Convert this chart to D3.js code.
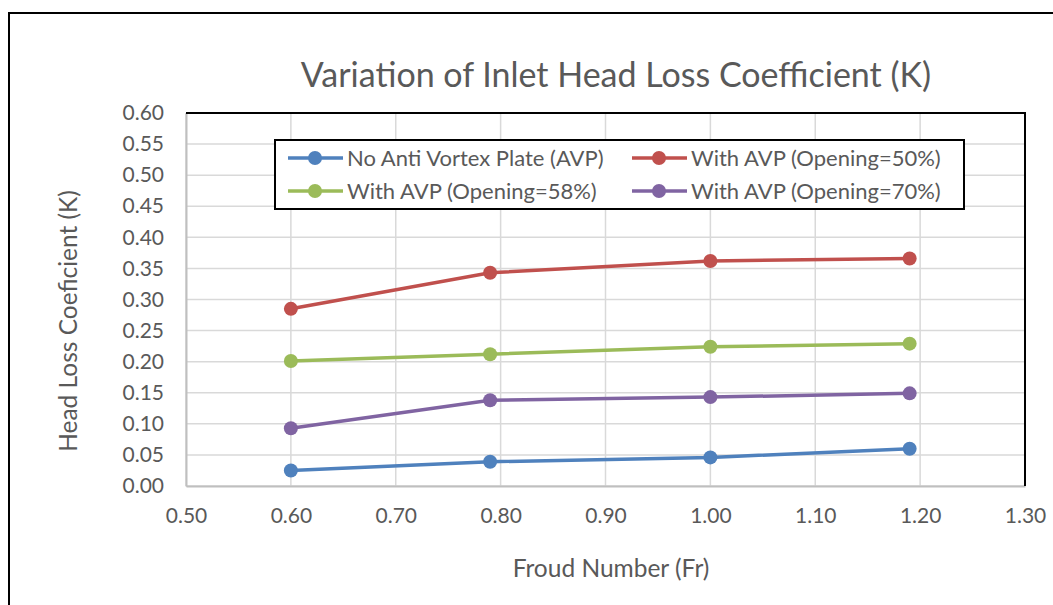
<!DOCTYPE html>
<meta charset="utf-8">
<style>
  body { margin: 0; background: #fff; }
  text { font-family: Lato, "Open Sans", sans-serif; fill: #595959; }
</style>
<script src="https://d3js.org/d3.v7.min.js"></script>
<div id="chart"></div>
<script>

  // data
  var froude = [0.60, 0.79, 1.00, 1.19]
  var noAVP  = [0.025, 0.039, 0.046, 0.060]
  var avp50  = [0.285, 0.343, 0.362, 0.366]
  var avp58  = [0.201, 0.212, 0.224, 0.229]
  var avp70  = [0.093, 0.138, 0.143, 0.149]
  var seriesNames = ["No Anti Vortex Plate (AVP)", "With AVP (Opening=50%)",
                     "With AVP (Opening=58%)", "With AVP (Opening=70%)"]
  var seriesColors = ["#4F81BD", "#C0504D", "#9BBB59", "#8064A2"]
  var xTicks = [0.5, 0.6, 0.7, 0.8, 0.9, 1.0, 1.1, 1.2, 1.3]
  var yTicks = [0, 0.05, 0.1, 0.15, 0.2, 0.25, 0.3, 0.35, 0.4, 0.45, 0.5, 0.55, 0.6]

  var series = [noAVP, avp50, avp58, avp70]

  var width = 1053,
      height = 605
  var plot = {left: 186, right: 1025, top: 113, bottom: 486}

  var svg = d3.select("#chart")
    .append("svg")
      .attr("width", width)
      .attr("height", height)

  // chart border
  svg.append("rect")
    .attr("x", 9).attr("y", 13)
    .attr("width", 1060).attr("height", 620)
    .attr("fill", "none")
    .attr("stroke", "#000")
    .attr("stroke-width", 2)

  var x = d3.scaleLinear().domain([0.5, 1.3]).range([plot.left, plot.right])
  var y = d3.scaleLinear().domain([0, 0.6]).range([plot.bottom, plot.top])

  // gridlines
  svg.append("g")
    .selectAll("line")
    .data(yTicks)
    .enter()
    .append("line")
      .attr("x1", plot.left).attr("x2", plot.right)
      .attr("y1", function(d) { return y(d) }).attr("y2", function(d) { return y(d) })
      .attr("stroke", "#d9d9d9").attr("stroke-width", 1.5)

  svg.append("g")
    .selectAll("line")
    .data(xTicks)
    .enter()
    .append("line")
      .attr("x1", function(d) { return x(d) }).attr("x2", function(d) { return x(d) })
      .attr("y1", plot.top).attr("y2", plot.bottom)
      .attr("stroke", "#d9d9d9").attr("stroke-width", 1.5)

  // axes
  var yAxis = svg.append("g")
    .attr("transform", "translate(" + plot.left + ",0)")
    .call(d3.axisLeft(y).tickValues(yTicks).tickFormat(d3.format(".2f")).tickSize(0).tickPadding(22))
  var xAxis = svg.append("g")
    .attr("transform", "translate(0," + plot.bottom + ")")
    .call(d3.axisBottom(x).tickValues(xTicks).tickFormat(d3.format(".2f")).tickSize(0).tickPadding(22))

  ;[yAxis, xAxis].forEach(function(a) {
    a.select(".domain").attr("stroke", "#bfbfbf").attr("stroke-width", 2)
    a.selectAll("text").style("font-size", "21px").attr("fill", "#595959")
  })

  // plot top and right borders
  svg.append("path")
    .attr("d", "M" + plot.left + "," + plot.top + "H" + plot.right + "V" + plot.bottom)
    .attr("fill", "none")
    .attr("stroke", "#000")
    .attr("stroke-width", 2)

  // lines and markers
  var line = d3.line()
    .x(function(d, i) { return x(froude[i]) })
    .y(function(d) { return y(d) })

  series.forEach(function(s, k) {
    svg.append("path")
      .datum(s)
      .attr("d", line)
      .attr("fill", "none")
      .attr("stroke", seriesColors[k])
      .attr("stroke-width", 3.5)
    svg.append("g")
      .selectAll("circle")
      .data(s)
      .enter()
      .append("circle")
        .attr("cx", function(d, i) { return x(froude[i]) })
        .attr("cy", function(d) { return y(d) })
        .attr("r", 7)
        .attr("fill", seriesColors[k])
  })

  // legend
  var legend = svg.append("g")
  legend.append("rect")
    .attr("x", 275).attr("y", 140)
    .attr("width", 689).attr("height", 69)
    .attr("fill", "#fff")
    .attr("stroke", "#000")
    .attr("stroke-width", 2)

  var legX = [288, 632], legY = [158, 191]
  seriesNames.forEach(function(name, k) {
    var lx = legX[k % 2], ly = legY[Math.floor(k / 2)]
    legend.append("line")
      .attr("x1", lx).attr("x2", lx + 55)
      .attr("y1", ly).attr("y2", ly)
      .attr("stroke", seriesColors[k])
      .attr("stroke-width", 3.5)
    legend.append("circle")
      .attr("cx", lx + 27).attr("cy", ly).attr("r", 7)
      .attr("fill", seriesColors[k])
    legend.append("text")
      .attr("x", lx + 59).attr("y", ly)
      .attr("dy", "0.35em")
      .style("font-size", "22px")
      .text(name)
  })

  // titles
  svg.append("text")
    .attr("x", 616).attr("y", 75)
    .attr("dy", "0.35em")
    .attr("text-anchor", "middle")
    .style("font-size", "34px")
    .text("Variation of Inlet Head Loss Coefficient (K)")

  svg.append("text")
    .attr("x", 611).attr("y", 568)
    .attr("dy", "0.35em")
    .attr("text-anchor", "middle")
    .style("font-size", "24.5px")
    .text("Froud Number (Fr)")

  svg.append("text")
    .attr("transform", "translate(68,321) rotate(-90)")
    .attr("dy", "0.35em")
    .attr("text-anchor", "middle")
    .style("font-size", "24.5px")
    .text("Head Loss Coeficient (K)")

</script>
